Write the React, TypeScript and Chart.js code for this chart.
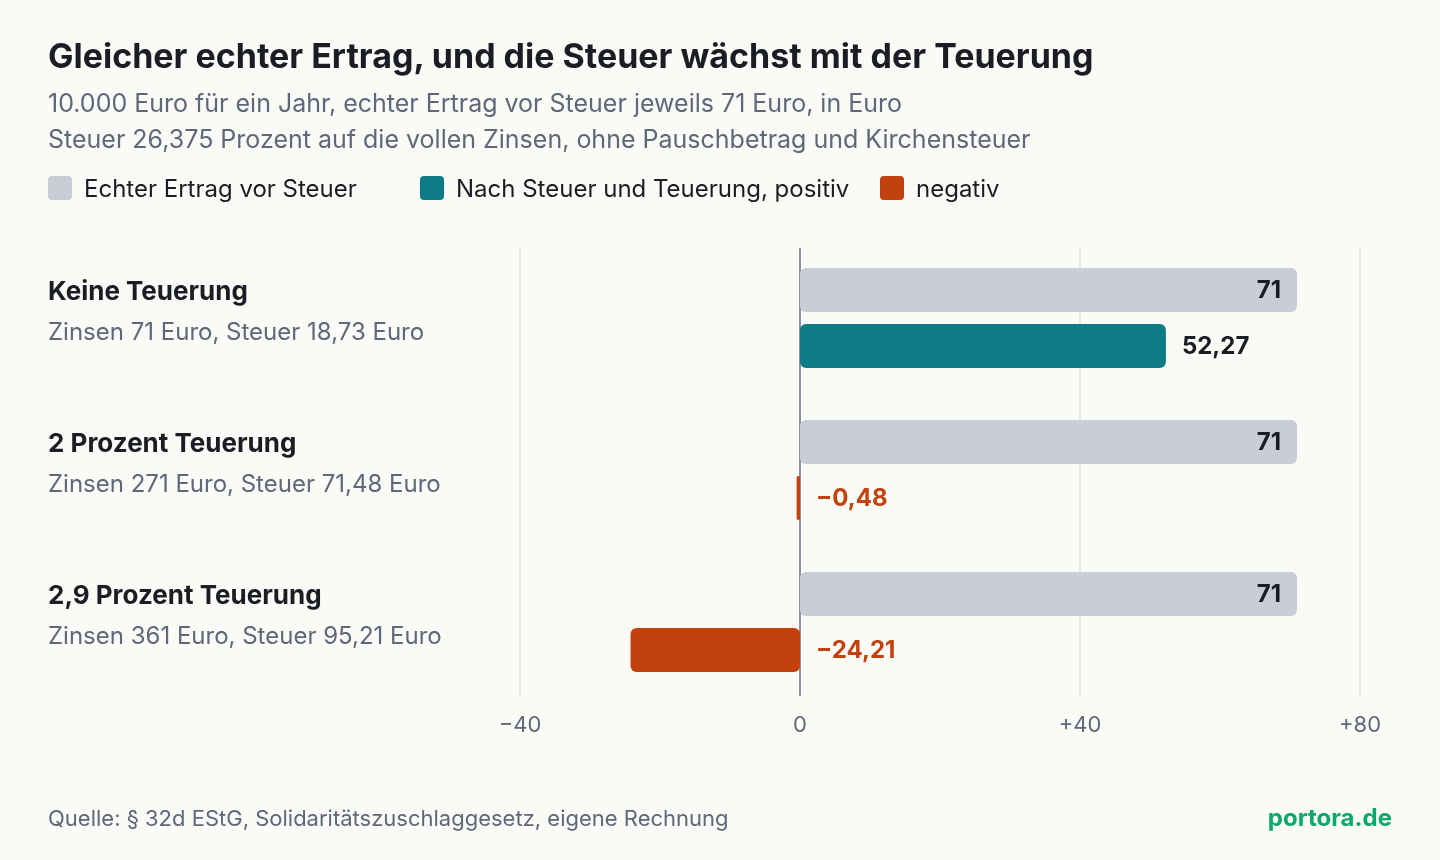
import { useEffect, useRef, type CSSProperties } from 'react';
import { Chart, registerables, type Plugin } from 'chart.js';

Chart.register(...registerables);

const categories = ['Keine Teuerung', '2 Prozent Teuerung', '2,9 Prozent Teuerung'];
const details = [
  'Zinsen 71 Euro, Steuer 18,73 Euro',
  'Zinsen 271 Euro, Steuer 71,48 Euro',
  'Zinsen 361 Euro, Steuer 95,21 Euro',
];
const beforeTax = [71, 71, 71];
const afterTax = [52.27, -0.48, -24.21];
const xTicks = [-40, 0, 40, 80];

const FONT = 'Inter, sans-serif';
const INK = '#1a1d24';
const MUTED = '#5f6778';
const GREY = '#c9cdd7';
const TEAL = '#0e7c86';
const RED = '#c2410c';
const GRID = '#e8e9e4';
const AXIS = '#8a92a6';
const PAGE = '#fafbf7';

const formatValue = (v: number) => String(v).replace('.', ',').replace('-', '\u2212');

const gridPlugin: Plugin<'bar'> = {
  id: 'gridLines',
  beforeDatasetsDraw(chart) {
    const { ctx } = chart;
    const x = chart.scales.x;
    ctx.save();
    ctx.lineWidth = 2;
    for (const t of xTicks) {
      ctx.strokeStyle = t === 0 ? AXIS : GRID;
      ctx.beginPath();
      ctx.moveTo(x.getPixelForValue(t), 248);
      ctx.lineTo(x.getPixelForValue(t), 696);
      ctx.stroke();
    }
    ctx.restore();
  },
};

const labelPlugin: Plugin<'bar'> = {
  id: 'textLabels',
  afterDatasetsDraw(chart) {
    const { ctx } = chart;
    const y = chart.scales.y;
    ctx.save();
    ctx.textBaseline = 'middle';
    categories.forEach((name, i) => {
      const c = y.getPixelForValue(i);
      ctx.textAlign = 'left';
      ctx.fillStyle = INK;
      ctx.font = `700 26px ${FONT}`;
      ctx.fillText(name, 48, c - 26);
      ctx.fillStyle = MUTED;
      ctx.font = `400 24px ${FONT}`;
      ctx.fillText(details[i], 48, c + 15);

      const top = chart.getDatasetMeta(0).data[i];
      ctx.font = `700 24px ${FONT}`;
      ctx.fillStyle = INK;
      ctx.textAlign = 'right';
      ctx.fillText(formatValue(beforeTax[i]), top.x - 16, top.y + 1);

      const bottom = chart.getDatasetMeta(1).data[i];
      const v = afterTax[i];
      ctx.textAlign = 'left';
      ctx.fillStyle = v < 0 ? RED : INK;
      const from = v < 0 ? chart.scales.x.getPixelForValue(0) : bottom.x;
      ctx.fillText(formatValue(v), from + 16, bottom.y + 1);
    });
    ctx.restore();
  },
};

const text = (left: number, top: number, size: number, color: string, weight = 400): CSSProperties => ({
  position: 'absolute',
  left,
  top,
  fontSize: size,
  lineHeight: '36px',
  color,
  fontWeight: weight,
  whiteSpace: 'nowrap',
});

const swatch = (left: number, color: string): CSSProperties => ({
  position: 'absolute',
  left,
  top: 176,
  width: 24,
  height: 24,
  borderRadius: 4,
  background: color,
});

export default function App() {
  const canvasRef = useRef<HTMLCanvasElement>(null);

  useEffect(() => {
    if (!canvasRef.current) return;
    document.body.style.margin = '0';
    const chart = new Chart(canvasRef.current, {
      type: 'bar',
      data: {
        labels: categories,
        datasets: [
          { label: 'Echter Ertrag vor Steuer', data: beforeTax, backgroundColor: GREY },
          {
            label: 'Nach Steuer und Teuerung',
            data: afterTax,
            backgroundColor: afterTax.map((v) => (v < 0 ? RED : TEAL)),
          },
        ],
      },
      options: {
        indexAxis: 'y',
        responsive: false,
        animation: false,
        layout: { padding: { left: 520, right: 80, top: 242, bottom: 122 } },
        datasets: {
          bar: {
            categoryPercentage: 112 / 152,
            barPercentage: 44 / 56,
            borderRadius: 6,
            borderSkipped: false,
          },
        },
        plugins: { legend: { display: false }, tooltip: { enabled: false } },
        scales: {
          x: {
            min: -40,
            max: 80,
            afterFit: (scale) => {
              scale.height = 40;
            },
            afterBuildTicks: (scale) => {
              scale.ticks = xTicks.map((value) => ({ value }));
            },
            grid: { display: false },
            border: { display: false },
            ticks: {
              padding: 6,
              maxRotation: 0,
              color: MUTED,
              font: { family: FONT, size: 22 },
              callback: (v) => {
                const n = Number(v);
                return n > 0 ? `+${n}` : n < 0 ? `\u2212${-n}` : '0';
              },
            },
          },
          y: { display: false },
        },
      },
      plugins: [gridPlugin, labelPlugin],
    });
    return () => chart.destroy();
  }, []);

  return (
    <div style={{ position: 'absolute', left: 0, top: 0, width: 1440, height: 860, background: PAGE, fontFamily: FONT, overflow: 'hidden' }}>
      <canvas ref={canvasRef} width={1440} height={860} style={{ position: 'absolute', left: 0, top: 0 }} />
      <div style={text(48, 38, 34, INK, 700)}>Gleicher echter Ertrag, und die Steuer wächst mit der Teuerung</div>
      <div style={text(48, 85, 25, MUTED)}>10.000 Euro für ein Jahr, echter Ertrag vor Steuer jeweils 71 Euro, in Euro</div>
      <div style={text(48, 121, 25, MUTED)}>Steuer 26,375 Prozent auf die vollen Zinsen, ohne Pauschbetrag und Kirchensteuer</div>
      <div style={swatch(48, GREY)} />
      <div style={text(84, 171, 24, INK)}>Echter Ertrag vor Steuer</div>
      <div style={swatch(420, TEAL)} />
      <div style={text(456, 171, 24, INK)}>Nach Steuer und Teuerung, positiv</div>
      <div style={swatch(880, RED)} />
      <div style={text(916, 171, 24, INK)}>negativ</div>
      <div style={text(48, 800, 22, MUTED)}>Quelle: § 32d EStG, Solidaritätszuschlaggesetz, eigene Rechnung</div>
      <div style={{ ...text(0, 800, 24, '#0aa86c', 700), left: 'auto', right: 48 }}>portora.de</div>
    </div>
  );
}
